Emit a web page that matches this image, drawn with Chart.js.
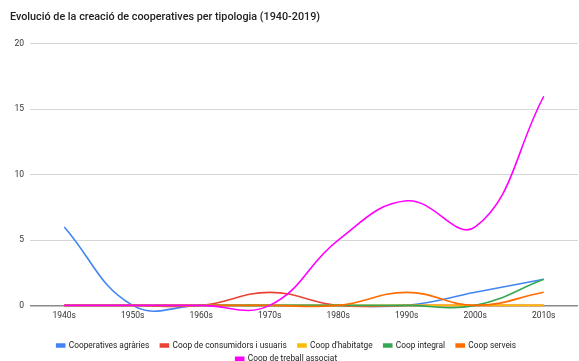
<!DOCTYPE html>
<html lang="ca">
<head>
<meta charset="UTF-8">
<title>Evolució de la creació de cooperatives</title>
<style>
    * { margin: 0; padding: 0; box-sizing: border-box; }
    body { background: #fff; width: 579px; height: 361px; overflow: hidden; }
    #wrap { width: 579px; height: 361px; position: relative; }
</style>
</head>
<body>
<div id="wrap"><canvas id="chart"></canvas></div>
<script src="https://cdn.jsdelivr.net/npm/chart.js"></script>
<script>
    const decades = ['1940s', '1950s', '1960s', '1970s', '1980s', '1990s', '2000s', '2010s'];
    const agraries = [6, 0, 0, 0, 0, 0, 1, 2];
    const consumidors = [0, 0, 0, 1, 0, 0, 0, 0];
    const habitatge = [0, 0, 0, 0, 0, 0, 0, 0];
    const integral = [0, 0, 0, 0, 0, 0, 0, 2];
    const serveis = [0, 0, 0, 0, 0, 1, 0, 1];
    const treball = [0, 0, 0, 0, 5, 8, 6, 16];
    const yTicks = [0, 5, 10, 15, 20];

    function serie(label, data, color, order) {
        return {
            label: label,
            data: data,
            borderColor: color,
            backgroundColor: color,
            borderWidth: 1.6,
            pointRadius: 0,
            tension: 0.42,
            fill: false,
            clip: false,
            order: order  // later series painted on top, like the original
        };
    }

    // legend: wrap narrower than the canvas, sit a bit lower, centred on the canvas
    const legendTweak = {
        id: 'legendTweak',
        afterInit(chart) {
            const lg = chart.legend;
            const orig = lg.update.bind(lg);
            lg.update = (w, h, m) => {
                orig(Math.min(w, 490), h, m);
                lg.height -= 12;
            };
        },
        afterLayout(chart) {
            chart.legend.left = 0;
            chart.legend.right = 579;
        }
    };

    new Chart(document.getElementById('chart'), {
        type: 'line',
        data: {
            labels: decades,
            datasets: [
                serie('Cooperatives agràries', agraries, '#4285f4', 5),
                serie('Coop de consumidors i usuaris', consumidors, '#ea4335', 4),
                serie("Coop d'habitatge", habitatge, '#fbbc04', 3),
                serie('Coop integral', integral, '#34a853', 2),
                serie('Coop serveis', serveis, '#ff6d01', 1),
                serie('Coop de treball associat', treball, '#ff00ff', 0)
            ]
        },
        plugins: [legendTweak],
        options: {
            responsive: true,
            maintainAspectRatio: false,
            animation: false,
            elements: { line: { capBezierPoints: false } },
            layout: { padding: { left: 10, right: 1, top: 0, bottom: 0 } },
            plugins: {
                title: {
                    display: true,
                    text: 'Evolució de la creació de cooperatives per tipologia (1940-2019)',
                    align: 'start',
                    color: '#222',
                    font: { family: 'Roboto', size: 10.8, weight: '500' },
                    padding: { top: 11, bottom: 20 }
                },
                legend: {
                    position: 'bottom',
                    labels: {
                        color: '#222',
                        font: { family: 'Roboto', size: 8.3 },
                        boxWidth: 8,
                        boxHeight: 3,
                        padding: 5,
                        sort: (a, b) => a.datasetIndex - b.datasetIndex,
                        generateLabels: chart => Chart.defaults.plugins.legend.labels.generateLabels(chart)
                            .map(it => Object.assign(it, { text: it.text + '   ' }))
                    }
                },
                tooltip: { enabled: false }
            },
            scales: {
                x: {
                    offset: true,
                    afterFit: axis => { axis.height = 31; },
                    grid: { display: false, drawTicks: false },
                    border: { display: false },
                    ticks: { color: '#333', font: { family: 'Roboto', size: 8.5 }, padding: 5 }
                },
                y: {
                    min: 0,
                    max: 20,
                    afterFit: axis => { axis.width = 20; },
                    afterBuildTicks: axis => { axis.ticks = yTicks.map(v => ({ value: v })); },
                    grid: {
                        drawTicks: false,
                        color: ctx => ctx.tick && ctx.tick.value === 0 ? '#8a8a8a' : '#d6d6d6',
                        lineWidth: ctx => ctx.tick && ctx.tick.value === 0 ? 1.5 : 1
                    },
                    border: { display: false },
                    ticks: { color: '#333', font: { family: 'Roboto', size: 8.5 }, padding: 6 }
                }
            }
        }
    });
</script>
</body>
</html>
